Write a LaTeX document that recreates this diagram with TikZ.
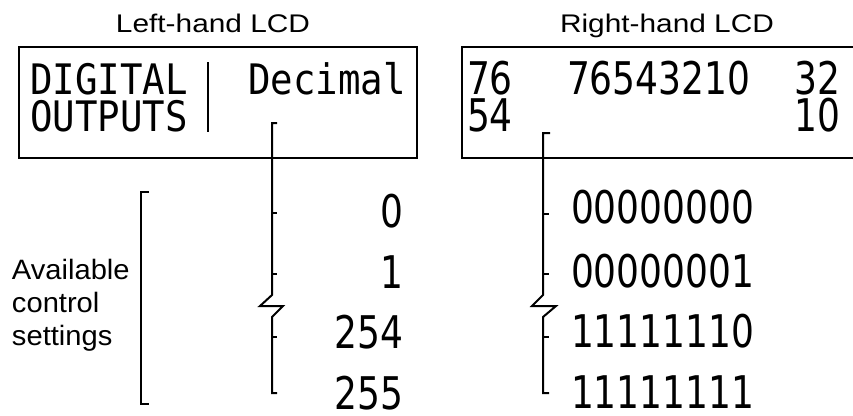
\documentclass[tikz,border=0pt]{standalone}
\usepackage{graphicx}
\usepackage{fontspec}
\setmainfont{Liberation Sans}
\newfontfamily\lcdmono{DejaVu Sans Mono}
\newfontfamily\lcddig{DejaVu Sans}
\newcommand\lcdletters[1]{\scalebox{0.89}[1]{\fontsize{42}{42}\selectfont\lcdmono #1}}
\newcommand\lcdnum[1]{\scalebox{0.80}[1]{\fontsize{45}{45}\selectfont\lcddig #1}}
\newcommand\captxt[1]{\scalebox{1.17}[1]{\fontsize{25.5}{25.5}\selectfont #1}}
\newcommand\sidetxt[1]{\scalebox{1.04}[1]{\fontsize{28}{28}\selectfont #1}}
\tikzset{
  lbl/.style={inner sep=0pt, outer sep=0pt, text depth=0pt},
  frame/.style={draw, line width=1.3pt},
  brk/.style={draw, line width=2pt},
  sep/.style={draw, line width=1.6pt}
}
\begin{document}
\begin{tikzpicture}[x=1pt,y=-1pt]
\useasboundingbox (0,0) rectangle (853,415);
% titles
\node[lbl, anchor=base] (tl) at (213,32) {\captxt{Left-hand LCD}};
\node[lbl, anchor=base] (tr) at (667,32) {\captxt{Right-hand LCD}};
% boxes
\draw[frame] (19,47) rectangle (417,158);
\draw[frame] (853,47) -- (462,47) -- (462,158) -- (853,158);
% left LCD text
\node[lbl, anchor=base west] (dig) at (30,94) {\lcdletters{DIGITAL}};
\node[lbl, anchor=base west] (out) at (30,131) {\lcdletters{OUTPUTS}};
\node[lbl, anchor=base west] (dec) at (248,94) {\lcdletters{Decimal}};
\draw[sep] (208,62) -- (208,132);
% right LCD text
\node[lbl, anchor=base west] (r76) at (467,94) {\lcdnum{76}};
\node[lbl, anchor=base west] (rbits) at (567,94) {\lcdnum{76543210}};
\node[lbl, anchor=base east] (r32) at (840,94) {\lcdnum{32}};
\node[lbl, anchor=base west] (r54) at (467,131) {\lcdnum{54}};
\node[lbl, anchor=base east] (r10) at (840,131) {\lcdnum{10}};
% decimal values
\node[lbl, anchor=base east] (d0) at (403,227) {\lcdnum{0}};
\node[lbl, anchor=base east] (d1) at (403,288) {\lcdnum{1}};
\node[lbl, anchor=base east] (d254) at (403,348) {\lcdnum{254}};
\node[lbl, anchor=base east] (d255) at (403,409) {\lcdnum{255}};
% binary values
\node[lbl, anchor=base west] (b0) at (571,223) {\lcdnum{00000000}};
\node[lbl, anchor=base west] (b1) at (571,287) {\lcdnum{00000001}};
\node[lbl, anchor=base west] (b254) at (571,347) {\lcdnum{11111110}};
\node[lbl, anchor=base west] (b255) at (571,408) {\lcdnum{11111111}};
% side label
\node[lbl, anchor=base west] (av1) at (12,279) {\sidetxt{Available}};
\node[lbl, anchor=base west] (av2) at (12,312) {\sidetxt{control}};
\node[lbl, anchor=base west] (av3) at (12,345) {\sidetxt{settings}};
\draw[brk] (149,192) -- (141,192) -- (141,404) -- (149,404);
% left brace
\draw[brk, line join=miter] (277,123) -- (272,123) -- (272,295) -- (260,306) -- (283,306) -- (272,317) -- (272,393) -- (277,393);
\foreach \yy in {213,274,337} \draw[brk] (272,\yy) -- (277,\yy);
% right brace
\draw[brk, line join=miter] (550,133) -- (543,133) -- (543,295) -- (532,306) -- (556,306) -- (543,317) -- (543,393) -- (549,393);
\foreach \yy in {214,274,337} \draw[brk] (543,\yy) -- (549,\yy);
\end{tikzpicture}
\end{document}
